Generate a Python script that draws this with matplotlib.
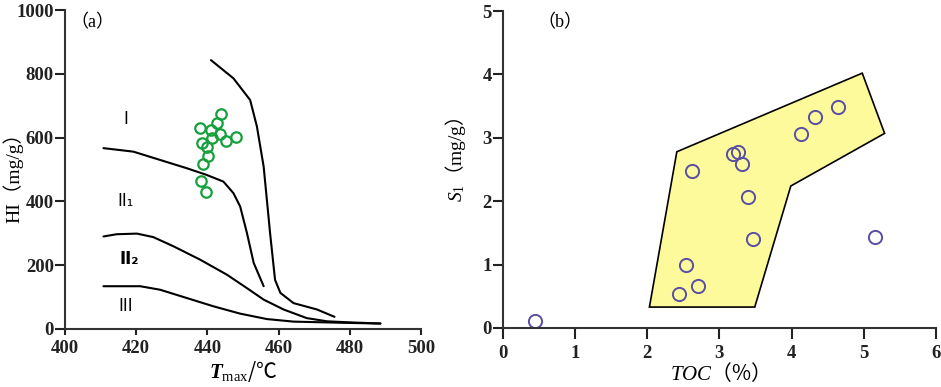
import numpy as np
import matplotlib.pyplot as plt

plt.rcParams['font.family'] = ['Liberation Serif', 'Noto Sans CJK SC', 'DejaVu Sans']
plt.rcParams['mathtext.fontset'] = 'custom'
plt.rcParams['mathtext.rm'] = 'Liberation Serif'
plt.rcParams['mathtext.it'] = 'Liberation Serif:italic'
plt.rcParams['mathtext.bf'] = 'Liberation Serif:italic:bold'
plt.rcParams['mathtext.fallback'] = 'stix'
plt.rcParams['xtick.labelsize'] = 13.5
plt.rcParams['ytick.labelsize'] = 13.5

# (a) kerogen type boundaries, HI vs Tmax
b1_t = [441.0, 447.3, 452.0, 453.9, 455.8, 456.7, 457.6, 458.6, 459.0, 460.5, 464.2, 470.8, 475.7]
b1_hi = [843, 786, 718, 635, 509, 405, 301, 196, 154, 113, 81, 61, 38]

b2_t = [410.8, 419.2, 426.7, 434.2, 439.8, 444.5, 447.3, 449.2, 451.1, 453.0, 455.8]
b2_hi = [567, 556, 530, 504, 483, 462, 426, 384, 301, 207, 134]

b3_t = [410.8, 414.5, 420.2, 424.8, 430.5, 438.0, 445.5, 451.1, 455.8, 461.4, 467.9, 473.6, 479.2, 488.6]
b3_hi = [290, 297, 299, 288, 259, 217, 170, 128, 92, 61, 34, 24, 21, 17]

b4_t = [410.8, 421.1, 426.7, 434.2, 441.7, 449.2, 456.7, 464.2, 471.7, 479.2, 488.6]
b4_hi = [134, 134, 123, 97, 71, 48, 31, 23, 21, 19, 17]

tmax = [443.9, 442.7, 438.0, 441.0, 443.4, 448.0, 441.3, 445.2, 438.5, 439.8, 440.1, 438.9, 438.1, 439.6]
hi = [673, 645, 630, 624, 611, 603, 600, 588, 584, 572, 543, 518, 464, 431]

a_xticks = [400, 420, 440, 460, 480, 500]
a_yticks = [0, 200, 400, 600, 800, 1000]

# (b) S1 vs TOC
zone_toc = [2.03, 2.41, 4.98, 5.29, 3.99, 3.49]
zone_s1 = [0.33, 2.78, 4.02, 3.07, 2.24, 0.33]

toc = [0.45, 2.44, 2.70, 2.54, 3.46, 3.39, 2.62, 3.32, 3.19, 3.26, 4.13, 4.32, 4.64, 5.16]
s1 = [0.11, 0.54, 0.67, 0.99, 1.41, 2.06, 2.48, 2.58, 2.74, 2.78, 3.06, 3.33, 3.48, 1.44]

b_xticks = [0, 1, 2, 3, 4, 5, 6]
b_yticks = [0, 1, 2, 3, 4, 5]

fig = plt.figure(figsize=(9.41, 3.87), dpi=100)
ax1 = fig.add_axes([0.0691, 0.150, 0.3783, 0.824])
ax2 = fig.add_axes([0.5345, 0.1525, 0.460, 0.819])

for ax in (ax1, ax2):
    for s in ('top', 'right'):
        ax.spines[s].set_visible(False)
    for s in ('left', 'bottom'):
        ax.spines[s].set_linewidth(1.5)
        ax.spines[s].set_color('#333333')
    ax.tick_params(axis='y', direction='out', length=7, width=1.5, pad=1, colors='#222222')
    ax.tick_params(axis='x', direction='out', length=4, width=1.5, pad=4, colors='#222222')

# panel a
for xs, ys in ((b1_t, b1_hi), (b2_t, b2_hi), (b3_t, b3_hi), (b4_t, b4_hi)):
    ax1.plot(xs, ys, color='black', lw=1.5, solid_capstyle='round')
ax1.plot(tmax, hi, 'o', ms=7.5, mfc='none', mec='#16a03c', mew=1.6, ls='none')
ax1.set_xlim(400, 500)
ax1.set_ylim(0, 1000)
ax1.set_xticks(a_xticks)
ax1.set_yticks(a_yticks)

ax1.text(407.6, 960, '（a）', ha='center', va='center', fontsize=13)
ax1.text(417, 658, 'I', ha='center', va='center', fontsize=12, family='DejaVu Sans')
ax1.text(417, 400, 'II₁', ha='center', va='center', fontsize=12, family='DejaVu Sans')
ax1.text(418, 220, 'II₂', ha='center', va='center', fontsize=12, family='DejaVu Sans', fontweight='bold')
ax1.text(417, 72, 'III', ha='center', va='center', fontsize=12, family='DejaVu Sans')

fig.text(13 / 941, 1 - 173 / 387, 'HI（mg/g）', rotation=90, ha='center', va='center', fontsize=14)
fig.text(243 / 941, 1 - 372 / 387, r'$\mathbf{T}_{\mathrm{max}}$/℃', ha='center', va='center',
         fontsize=15, family='Noto Sans CJK SC')

# panel b
ax2.fill(zone_toc, zone_s1, facecolor='#fdfa9c', edgecolor='black', lw=1.2)
ax2.plot(toc, s1, 'o', ms=9.5, mfc='none', mec='#5a4ea2', mew=1.4, ls='none')
ax2.set_xlim(0, 6)
ax2.set_ylim(0, 5)
ax2.set_xticks(b_xticks)
ax2.set_yticks(b_yticks)
ax2.tick_params(axis='x', length=8)

ax2.text(0.79, 4.81, '（b）', ha='center', va='center', fontsize=13)

fig.text(455 / 941, 1 - 160 / 387, r'$S_1$（$\mathrm{mg/g}$）', rotation=90, ha='center', va='center',
         fontsize=14, family='Noto Sans CJK SC')
fig.text(715 / 941, 1 - 373 / 387, r'$\mathit{TOC}$（%）', ha='center', va='center',
         fontsize=15, family='Noto Sans CJK SC')

for ax in (ax1, ax2):
    for lab in ax.get_xticklabels() + ax.get_yticklabels():
        lab.set_fontweight('bold')

fig.savefig('out.png', dpi=100)
